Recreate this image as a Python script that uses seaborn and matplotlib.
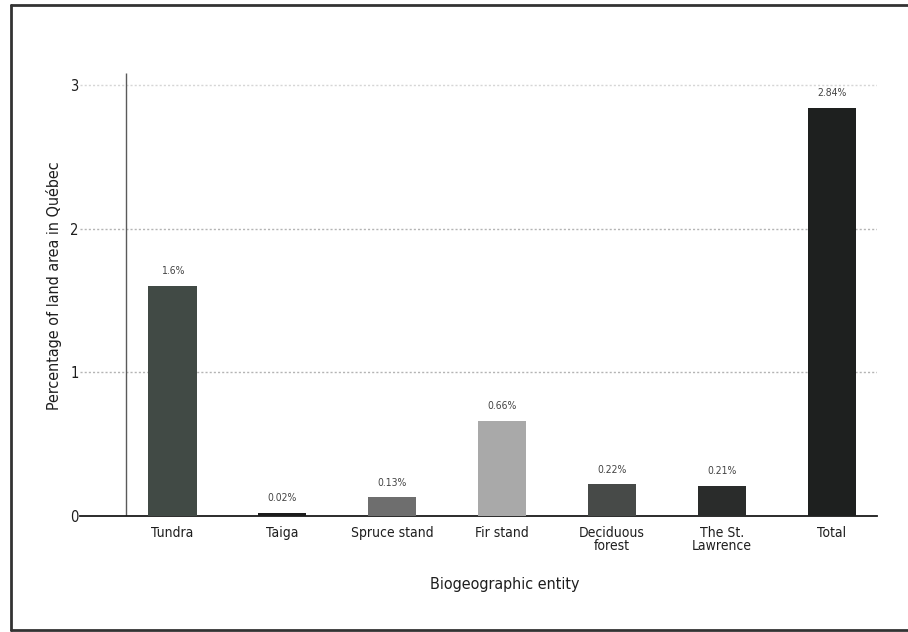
import matplotlib
matplotlib.use("Agg")
import matplotlib.pyplot as plt
from matplotlib.lines import Line2D
import seaborn as sns
import pandas as pd

# Land area share of each biogeographic entity (percent of Québec)
categories = ["Tundra", "Taiga", "Spruce stand", "Fir stand",
              "Deciduous\nforest", "The St.\nLawrence", "Total"]
values = [1.6, 0.02, 0.13, 0.66, 0.22, 0.21, 2.84]
bar_colors = ["#414a45", "#1c1c1c", "#6e6e6e", "#a9a9a9",
              "#474a48", "#2a2c2b", "#1e201f"]
y_ticks = [0, 1, 2, 3]

sns.set_theme(style="white")
plt.rcParams["font.family"] = ["Liberation Sans Narrow", "DejaVu Sans"]
plt.rcParams["font.stretch"] = "condensed"

df = pd.DataFrame({"entity": categories, "share": values})

fig = plt.figure(figsize=(9.08, 6.32), dpi=100)
ax = fig.add_axes([0.0881, 0.1835, 0.8778, 0.705])

sns.barplot(data=df, x="entity", y="share", hue="entity",
            palette=bar_colors, width=0.44, legend=False,
            saturation=1, linewidth=0, ax=ax, zorder=3)

ax.set_xlim(-0.84, 6.41)
ax.set_ylim(0, 3.1)
ax.set_yticks(y_ticks)
ax.set_yticklabels([str(t) for t in y_ticks])

# dotted horizontal reference lines
for t in y_ticks[1:]:
    ax.axhline(t, color="#d6d6d6" if t == 3 else "#b4b4b4",
               linestyle=(0, (1.5, 1.5)), linewidth=1.0, zorder=1)

# vertical axis line set in from the left edge
ax.plot([-0.42, -0.42], [0, 3.08], color="#5a5a5a", linewidth=1.0,
        zorder=2, solid_capstyle="butt")

for side in ["left", "right", "top"]:
    ax.spines[side].set_visible(False)
ax.spines["bottom"].set_color("#1a1a1a")
ax.spines["bottom"].set_linewidth(1.3)

ax.tick_params(axis="y", length=0, pad=1, labelsize=10.5, labelcolor="#1e1e1e")
ax.tick_params(axis="x", length=0, pad=7, labelsize=10, labelcolor="#1e1e1e")
for lbl in ax.get_xticklabels():
    lbl.set_linespacing(0.95)

# value labels above each bar
for i, v in enumerate(values):
    ax.annotate(f"{v}%", (i, v), xytext=(0, 7), textcoords="offset points",
                ha="center", va="bottom", fontsize=7.5, color="#444444")

ax.set_ylabel("Percentage of land area in Québec", fontsize=11.5, color="#1e1e1e")
ax.set_xlabel("Biogeographic entity", fontsize=11.5, color="#1e1e1e")
ax.yaxis.set_label_coords(-0.0226, 0.518)
ax.xaxis.set_label_coords(0.533, -0.137)

# outer frame: left, top and bottom edges (the right side runs off the page)
frame_kw = dict(transform=fig.transFigure, color="#333333", linewidth=2.0)
xl, yt, yb = 11 / 908, 1 - 5 / 632, 1 - 630 / 632
fig.lines.extend([
    Line2D([xl, xl], [yb, yt], **frame_kw),
    Line2D([xl, 1.0], [yt, yt], **frame_kw),
    Line2D([xl, 1.0], [yb, yb], **frame_kw),
])

fig.savefig("out.png", dpi=100)
